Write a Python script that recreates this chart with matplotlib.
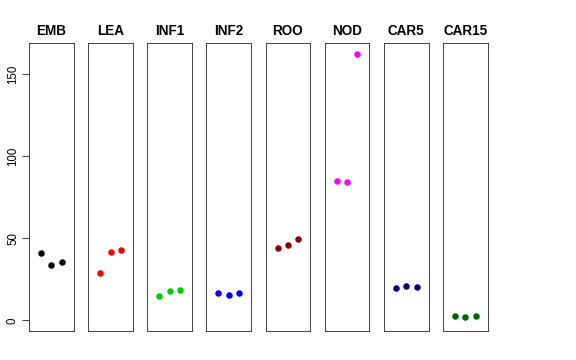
import matplotlib
matplotlib.use("Agg")
import matplotlib.pyplot as plt

plt.rcParams['font.family'] = ['Liberation Sans', 'DejaVu Sans']

categories = ["EMB", "LEA", "INF1", "INF2", "ROO", "NOD", "CAR5", "CAR15"]
colors = ["#000000", "#FF0000", "#00CD00", "#0000FF", "#8B0000", "#FF00FF", "#000080", "#006400"]
values = {
    "EMB": [41.1, 33.4, 35.6],
    "LEA": [28.6, 41.4, 42.6],
    "INF1": [14.8, 18.0, 18.4],
    "INF2": [16.4, 15.6, 16.4],
    "ROO": [44.3, 45.8, 49.5],
    "NOD": [84.9, 84.5, 162.2],
    "CAR5": [19.5, 21.0, 20.3],
    "CAR15": [2.4, 2.0, 2.4],
}
yticks = [0, 50, 100, 150]
reps = [1, 2, 3]

W, H = 576, 360
fig = plt.figure(figsize=(W / 72, H / 72), dpi=72)

ymax = max(max(v) for v in values.values())
ymin = 0.0
yr = ymax - ymin
ylim = (ymin - 0.04 * yr, ymax + 0.04 * yr)
xlim = (0 - 0.04 * 4, 4 + 0.04 * 4)

left0 = 29.0
pw = 44.7
step = 59.15
top = 43.3
bottom = 331.0

for i, (cat, col) in enumerate(zip(categories, colors)):
    x0 = left0 + i * step
    ax = fig.add_axes([x0 / W, 1 - bottom / H, pw / W, (bottom - top) / H])
    ax.plot(reps, values[cat], 'o', color=col, markersize=6.5, markeredgewidth=0)
    ax.set_xlim(*xlim)
    ax.set_ylim(*ylim)
    ax.set_xticks([])
    for s in ax.spines.values():
        s.set_linewidth(0.9)
        s.set_color('#333333')
    ax.set_title(cat, fontsize=13.5, fontweight='bold', pad=8)
    if i == 0:
        ax.set_yticks(yticks)
        ax.set_yticklabels([str(t) for t in yticks], rotation=90, va='center', fontsize=11.5)
        ax.tick_params(axis='y', length=7, width=0.9, pad=3, color='#333333')
    else:
        ax.set_yticks([])

fig.savefig("out.png", dpi=72)
